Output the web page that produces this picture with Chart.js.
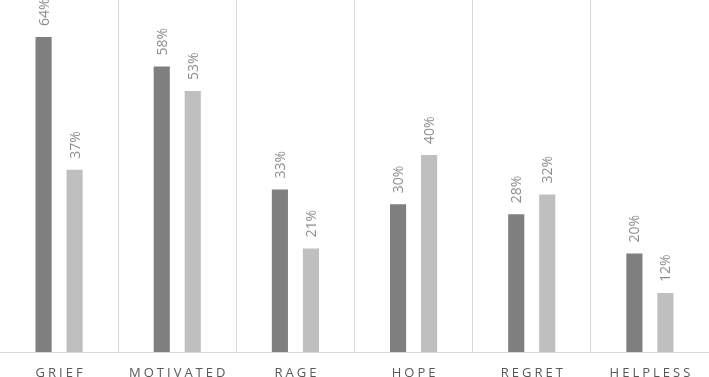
<!DOCTYPE html>
<html>
<head>
<meta charset="utf-8">
<script src="https://cdn.jsdelivr.net/npm/chart.js@4"></script>
<style>
  html, body { margin: 0; padding: 0; background: #fff; }
  #wrap { width: 709px; height: 377px; }
</style>
</head>
<body>
<div id="wrap"><canvas id="chart"></canvas></div>
<script>
// categories and the two series (percent)
const categories = ['GRIEF', 'MOTIVATED', 'RAGE', 'HOPE', 'REGRET', 'HELPLESS'];
const seriesA = [64, 58, 33, 30, 28, 20];
const seriesB = [37, 53, 21, 40, 32, 12];

// rotated value labels above each bar + spaced category labels below
const labelPlugin = {
  id: 'labels',
  afterDatasetsDraw(chart) {
    const ctx = chart.ctx;
    ctx.save();
    ctx.font = '14px "Open Sans"';
    ctx.fillStyle = '#8c8c8c';
    ctx.textAlign = 'left';
    ctx.textBaseline = 'middle';
    chart.data.datasets.forEach((ds, i) => {
      chart.getDatasetMeta(i).data.forEach((bar, j) => {
        ctx.save();
        ctx.translate(bar.x + 1, bar.y - 11);
        ctx.rotate(-Math.PI / 2);
        ctx.fillText(ds.data[j] + '%', 0, 0);
        ctx.restore();
      });
    });
    // category labels
    const xs = chart.scales.x;
    ctx.font = '13px "Open Sans"';
    ctx.fillStyle = '#595959';
    ctx.textAlign = 'center';
    ctx.textBaseline = 'middle';
    ctx.letterSpacing = '3px';
    categories.forEach((c, i) => {
      ctx.fillText(c, xs.getPixelForValue(i) + 1.5, chart.chartArea.bottom + 21);
    });
    ctx.restore();
  }
};

new Chart(document.getElementById('chart'), {
  type: 'bar',
  data: {
    labels: categories,
    datasets: [
      { data: seriesA, backgroundColor: '#7f7f7f', categoryPercentage: 0.525, barPercentage: 0.52 },
      { data: seriesB, backgroundColor: '#bfbfbf', categoryPercentage: 0.525, barPercentage: 0.52 }
    ]
  },
  options: {
    responsive: true,
    maintainAspectRatio: false,
    animation: false,
    layout: { padding: { left: 0, right: 0, top: 0, bottom: 25 } },
    plugins: { legend: { display: false }, tooltip: { enabled: false } },
    scales: {
      x: {
        ticks: { display: false },
        grid: { offset: true, color: '#d9d9d9', drawTicks: false },
        border: { color: '#d9d9d9', width: 1 }
      },
      y: {
        display: false,
        min: 0,
        max: 71.5
      }
    }
  },
  plugins: [labelPlugin]
});
</script>
</body>
</html>
